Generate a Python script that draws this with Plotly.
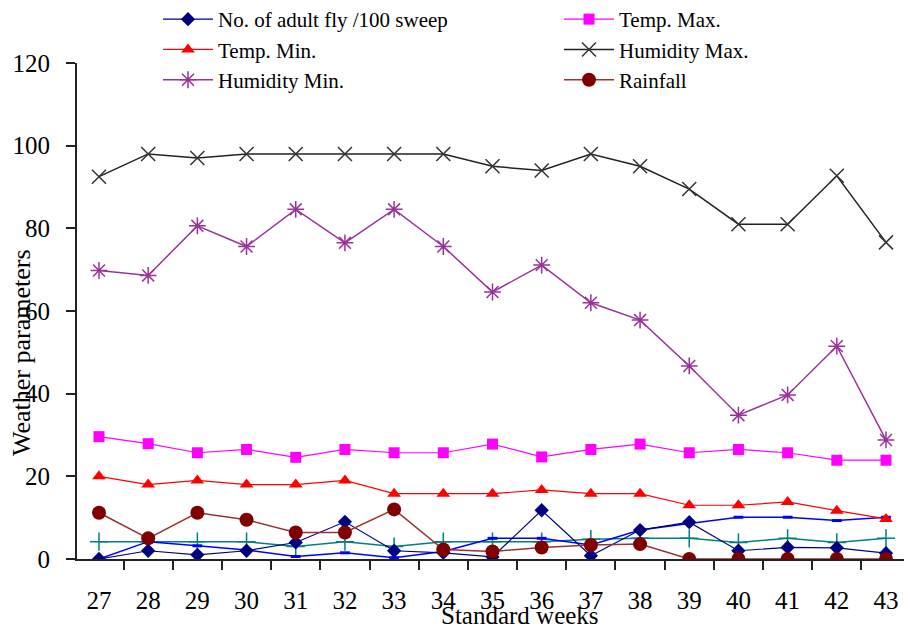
import plotly.graph_objects as go

# Standard weeks on the x axis
weeks = list(range(27, 44))

# Observed series per standard week
adult_fly = [0, 2, 1, 2, 4, 9, 2, 1.5, 0.5, 11.8, 0.8, 7, 8.9, 2, 2.8, 2.7, 1.4]
temp_max = [29.6, 27.9, 25.7, 26.5, 24.6, 26.5, 25.7, 25.7, 27.8, 24.7, 26.5, 27.8, 25.7, 26.5, 25.7, 23.9, 23.9]
temp_min = [20, 18, 19, 18, 18, 19, 15.8, 15.8, 15.8, 16.7, 15.8, 15.8, 13, 13, 13.8, 11.7, 9.7]
humidity_max = [92.5, 98, 97, 98, 98, 98, 98, 98, 95, 94, 98, 95, 89.5, 81, 81, 92.7, 76.6]
humidity_min = [69.8, 68.6, 80.6, 75.6, 84.6, 76.5, 84.6, 75.6, 64.6, 71.1, 62, 57.8, 46.7, 34.8, 39.7, 51.5, 28.8]
rainfall = [11.2, 5, 11.2, 9.5, 6.4, 6.4, 12, 2.3, 1.8, 2.8, 3.4, 3.6, 0, 0, 0, 0, 0]
series_7 = [0, 4.2, 3.2, 2.2, 0.6, 1.5, 0.3, 1.8, 5, 5, 3.4, 7, 8.6, 10.1, 10.1, 9.3, 10.1]
series_8 = [4.2, 4.2, 4.2, 4.2, 3, 4.2, 3, 4.2, 4.2, 4.2, 4.8, 5, 5, 4, 5, 4, 5]

y_ticks = [0, 20, 40, 60, 80, 100, 120]

FONT = "Liberation Serif"

fig = go.Figure()

# Unlabelled helper series (drawn underneath)
fig.add_trace(go.Scatter(
    x=weeks, y=series_8, mode="lines+markers", name="Series 8", showlegend=False,
    line=dict(color="#008080", width=1.5),
    marker=dict(symbol="cross-thin", size=13, line=dict(color="#008080", width=1.5)),
))
fig.add_trace(go.Scatter(
    x=weeks, y=series_7, mode="lines+markers", name="Series 7", showlegend=False,
    line=dict(color="#0000FF", width=1.5),
    marker=dict(symbol="line-ew", size=7, line=dict(color="#0000FF", width=3)),
))

# Legend column 1
fig.add_trace(go.Scatter(
    x=weeks, y=adult_fly, mode="lines+markers", name="No. of adult fly /100 sweep",
    line=dict(color="#000080", width=1.2),
    marker=dict(symbol="diamond", size=11, color="#000080"),
    legend="legend",
))
fig.add_trace(go.Scatter(
    x=weeks, y=temp_min, mode="lines+markers", name="Temp. Min.",
    line=dict(color="#FF0000", width=1.2),
    marker=dict(symbol="triangle-up", size=12, color="#FF0000"),
    legend="legend",
))
fig.add_trace(go.Scatter(
    x=weeks, y=humidity_min, mode="lines+markers", name="Humidity Min.",
    line=dict(color="#993399", width=1.5),
    marker=dict(symbol="asterisk-open", size=14, line=dict(color="#993399", width=1.5)),
    legend="legend",
))

# Legend column 2
fig.add_trace(go.Scatter(
    x=weeks, y=temp_max, mode="lines+markers", name="Temp. Max.",
    line=dict(color="#FF00FF", width=1.2),
    marker=dict(symbol="square", size=11, color="#FF00FF"),
    legend="legend2",
))
fig.add_trace(go.Scatter(
    x=weeks, y=humidity_max, mode="lines+markers", name="Humidity Max.",
    line=dict(color="#222222", width=1.5),
    marker=dict(symbol="x-thin", size=14, line=dict(color="#333333", width=1.5)),
    legend="legend2",
))
fig.add_trace(go.Scatter(
    x=weeks, y=rainfall, mode="lines+markers", name="Rainfall",
    line=dict(color="#993333", width=1.5),
    marker=dict(symbol="circle", size=14, color="#800000"),
    legend="legend2",
))

legend_style = dict(
    font=dict(family=FONT, size=21, color="black"),
    bgcolor="rgba(0,0,0,0)", borderwidth=0,
    yanchor="top", xanchor="left", itemwidth=50,
    tracegroupgap=0,
)

fig.update_layout(
    width=904, height=628,
    margin=dict(l=77, r=0, t=63, b=69, autoexpand=False),
    paper_bgcolor="white", plot_bgcolor="white",
    font=dict(family=FONT, size=24, color="black"),
    legend=dict(x=(158 - 77) / 827, y=(559 + 1) / 496, **legend_style),
    legend2=dict(x=(559 - 77) / 827, y=(559 + 1) / 496, **legend_style),
    xaxis=dict(
        range=[26.553, 43.366],
        tickmode="array", tickvals=weeks, ticktext=[str(w) for w in weeks],
        ticks="", ticklabelstandoff=18,
        tickfont=dict(family=FONT, size=25),
        showgrid=False, zeroline=False,
        showline=True, linecolor="#222222", linewidth=2,
        minor=dict(tickvals=[w + 0.5 for w in weeks[:-1]], ticks="outside",
                   ticklen=9, tickwidth=1.5, tickcolor="#222222", showgrid=False),
    ),
    yaxis=dict(
        range=[0, 120], tickvals=y_ticks,
        ticks="outside", ticklen=9, tickwidth=1.5, tickcolor="#222222",
        ticklabelstandoff=11,
        tickfont=dict(family=FONT, size=25),
        showgrid=False, zeroline=False,
        showline=True, linecolor="#222222", linewidth=2,
    ),
    annotations=[
        dict(text="Weather parameters", xref="paper", yref="paper",
             x=(21 - 77) / 827, y=(559 - 353) / 496, textangle=-90,
             xanchor="center", yanchor="middle", showarrow=False,
             font=dict(family=FONT, size=26, color="black")),
        dict(text="Standard weeks", xref="paper", yref="paper",
             x=(520 - 77) / 827, y=(559 - 615) / 496,
             xanchor="center", yanchor="middle", showarrow=False,
             font=dict(family=FONT, size=25, color="black")),
    ],
)

fig.write_html("out.html")
